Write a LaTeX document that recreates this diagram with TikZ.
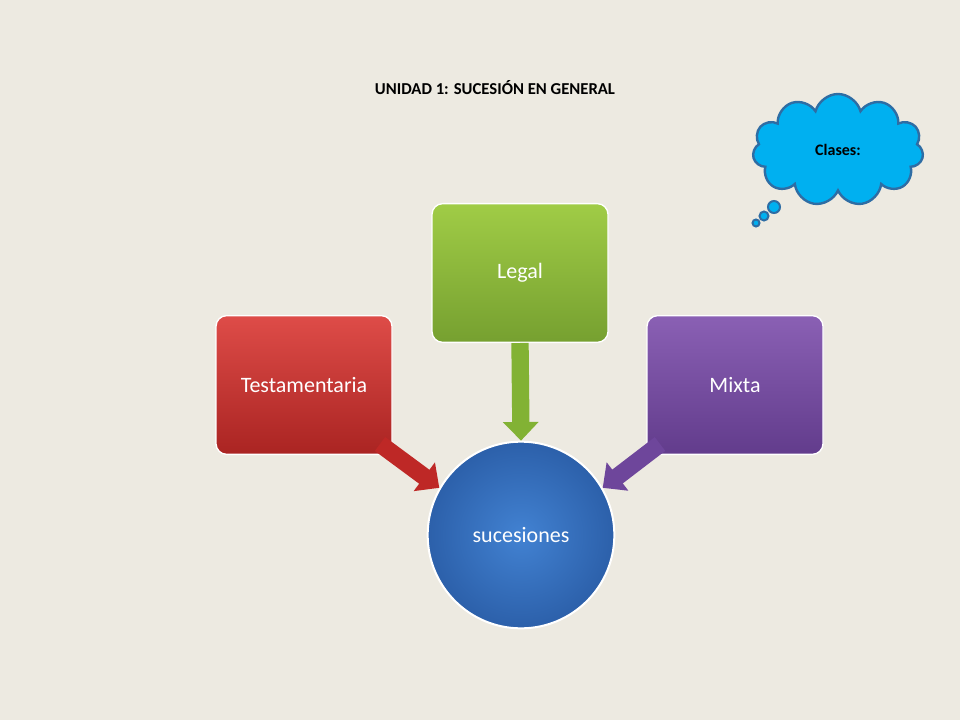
\documentclass[tikz,border=0pt]{standalone}
\usepackage{fontspec}
\setmainfont{Carlito}
\usetikzlibrary{arrows.meta,shapes.symbols,shadings}
\definecolor{bg}{HTML}{EDEAE1}
\begin{document}
\begin{tikzpicture}[x=0.75pt,y=-0.75pt,
  boxs/.style={rounded corners=8pt,minimum width=132pt,minimum height=104pt,draw=white,line width=1pt,text=white,font=\fontsize{16.5}{20}\selectfont,inner sep=3pt},
  arr/.style={line width=13pt,-{Triangle[width=26pt,length=14pt]}}]
\fill[bg] (0,0) rectangle (960,720);
\node[font=\bfseries\fontsize{12.5}{15}\selectfont] (title) at (495,88) {UNIDAD 1: SUCESIÓN EN GENERAL};
% cloud
\node[cloud,cloud puffs=11,aspect=1.6,draw={rgb,255:red,46;green,109;blue,164},line width=1.8pt,fill={rgb,255:red,0;green,176;blue,240},minimum width=128pt,minimum height=84pt,font=\bfseries\fontsize{12}{14}\selectfont] (cl) at (838,150) {Clases:};
\foreach \x/\y/\r in {774/207/6,764/216/4.5,756/223/3.5}
  \draw[draw={rgb,255:red,46;green,109;blue,164},line width=1.5pt,fill={rgb,255:red,0;green,176;blue,240}] (\x,\y) circle (\r);
% boxes
\node[boxs,top color={rgb,255:red,222;green,76;blue,72},bottom color={rgb,255:red,170;green,36;blue,34}] (t) at (304,385) {Testamentaria};
\node[boxs,top color={rgb,255:red,160;green,204;blue,70},bottom color={rgb,255:red,118;green,160;blue,48}] (l) at (520,273) {Legal};
\node[boxs,top color={rgb,255:red,138;green,96;blue,180},bottom color={rgb,255:red,98;green,60;blue,140}] (m) at (735,385) {Mixta};
\node[circle,minimum size=140pt,draw=white,line width=1.5pt,inner color={rgb,255:red,66;green,130;blue,210},outer color={rgb,255:red,44;green,96;blue,170},text=white,font=\fontsize{16.5}{20}\selectfont] (s) at (521,535) {sucesiones};
% arrows
\coordinate (ta) at (380,444);
\coordinate (ma) at (660,444);
\draw[arr,draw={rgb,255:red,190;green,40;blue,38}] (ta) -- (s.150);
\draw[arr,draw={rgb,255:red,130;green,178;blue,52}] (l.south) -- (s.north);
\draw[arr,draw={rgb,255:red,110;green,70;blue,155}] (ma) -- (s.30);
\end{tikzpicture}
\end{document}
